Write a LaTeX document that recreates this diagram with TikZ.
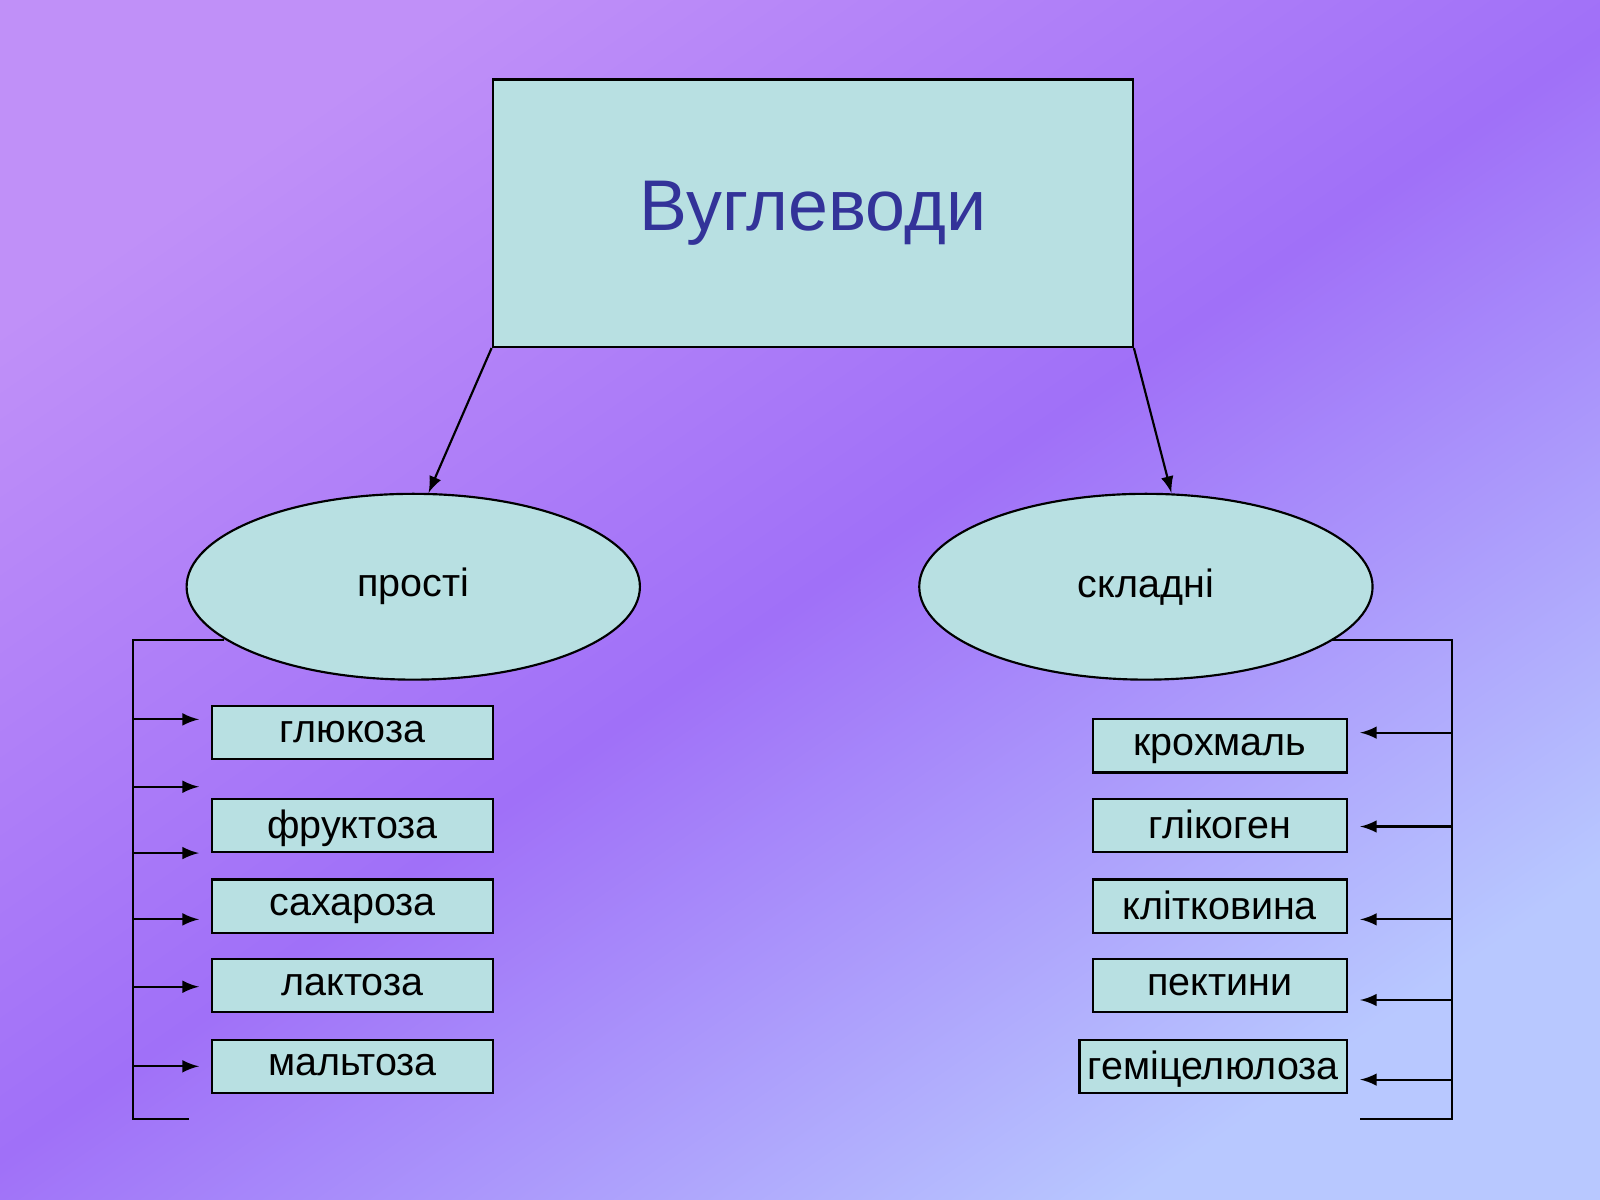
\documentclass[tikz,border=0pt]{standalone}
\usepackage{fontspec}
\setmainfont{Liberation Sans}
\usetikzlibrary{positioning, calc, shapes.geometric}
\usetikzlibrary{arrows}
\begin{document}
\begin{tikzpicture}[x=0.01cm, y=-0.01cm, >=latex, line width=0.6pt]
        % Define colors
        \definecolor{boxfill}{HTML}{B8E0E2}
        \definecolor{titleblue}{HTML}{333399}
        \definecolor{bgA}{HTML}{C090F8}
        \definecolor{bgM}{HTML}{A070F8}
        \definecolor{bgB}{HTML}{B8C8FF}
        \tikzset{
            item/.style={draw, fill=boxfill, minimum height=0.52cm, inner sep=0pt, text depth=0.02cm, font=\fontsize{11}{11}\selectfont},
            sort/.style={draw, ellipse, fill=boxfill, minimum width=4.44cm, minimum height=1.82cm, font=\fontsize{11}{11}\selectfont}
        }

        % Background
        \shade[top color=bgA, bottom color=bgB, middle color=bgM, shading angle=35] (0,0) rectangle (1568,1176);
        \useasboundingbox (0,0) rectangle (1568,1176);

        % Nodes
        \node[draw, fill=boxfill, minimum width=6.27cm, minimum height=2.62cm, text=titleblue, font=\fontsize{20}{20}\selectfont] (carbs) at (796.5,209) {Вуглеводи};
        \node[sort] (simple) at (405,575) {прості};
        \node[sort] (complex) at (1123,575) {складні};

        \node[item, minimum width=2.75cm] (glu) at (345.5,718) {глюкоза};
        \node[item, minimum width=2.75cm] (fru) at (345.5,809) {фруктоза};
        \node[item, minimum width=2.75cm] (sac) at (345.5,888) {сахароза};
        \node[item, minimum width=2.75cm] (lac) at (345.5,966) {лактоза};
        \node[item, minimum width=2.75cm] (mal) at (345.5,1045) {мальтоза};

        \node[item, minimum width=2.49cm] (sta) at (1195.5,731) {крохмаль};
        \node[item, minimum width=2.49cm] (gly) at (1195.5,809) {глікоген};
        \node[item, minimum width=2.49cm] (cel) at (1195.5,888) {клітковина};
        \node[item, minimum width=2.49cm] (pec) at (1195.5,966) {пектини};
        \node[item, minimum width=2.62cm] (hem) at (1189,1045) {геміцелюлоза};

        % Edges
        \draw[->] (carbs.south west) -- (420,483);
        \draw[->] (carbs.south east) -- (1148,483);

        \draw (220,627) -- (130,627) -- (130,1097) -- (185,1097);
        \foreach \y in {705,771,836,901,967,1045} {
            \draw[->] (130,\y) -- (195,\y);
        }
        \draw (1305,627) -- (1423,627) -- (1423,1097) -- (1333,1097);
        \foreach \y in {718,810,901,980,1058} {
            \draw[->] (1423,\y) -- (1333,\y);
        }
\end{tikzpicture}
\end{document}
